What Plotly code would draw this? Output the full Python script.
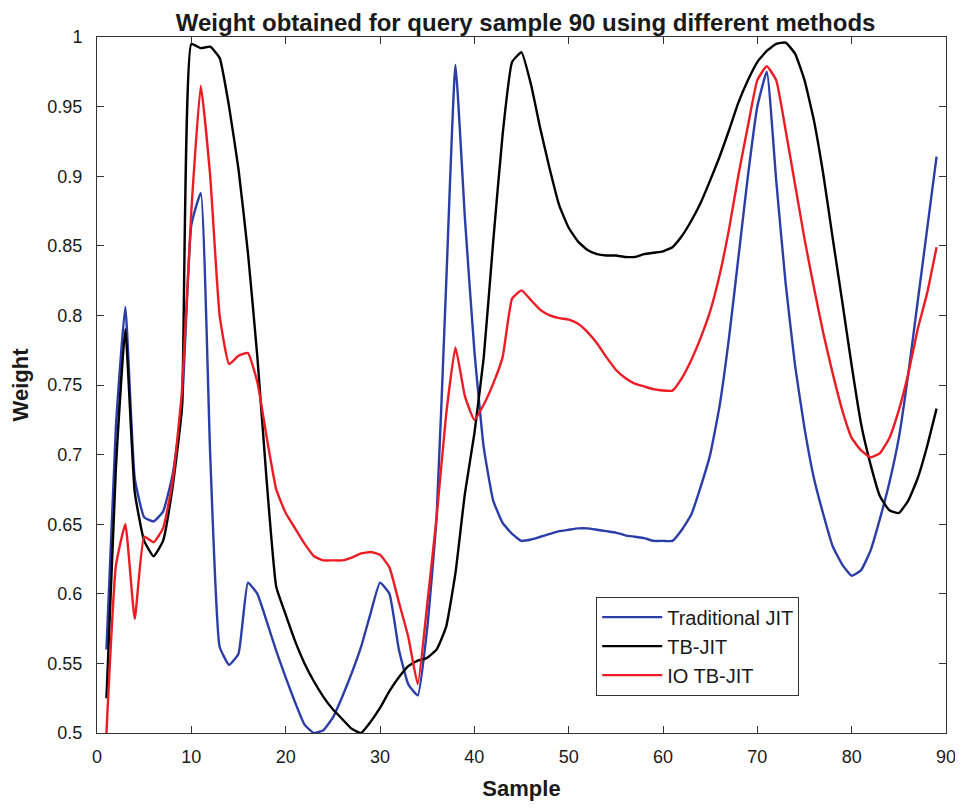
import plotly.graph_objects as go

samples = list(range(1, 90))

traditional_jit = [
    0.560, 0.720, 0.806, 0.683, 0.655, 0.652, 0.659, 0.685, 0.735, 0.865,
    0.888, 0.700, 0.562, 0.549, 0.557, 0.608, 0.600, 0.580, 0.559, 0.540,
    0.522, 0.506, 0.500, 0.502, 0.511, 0.526, 0.543, 0.562, 0.586, 0.608,
    0.600, 0.560, 0.535, 0.527, 0.575, 0.655, 0.820, 0.980, 0.870, 0.775,
    0.705, 0.667, 0.651, 0.643, 0.638, 0.639, 0.641, 0.643, 0.645, 0.646,
    0.647, 0.647, 0.646, 0.645, 0.644, 0.642, 0.641, 0.640, 0.638, 0.638,
    0.638, 0.646, 0.657, 0.677, 0.700, 0.735, 0.784, 0.842, 0.900, 0.950,
    0.975, 0.897, 0.823, 0.764, 0.719, 0.683, 0.657, 0.634, 0.621, 0.613,
    0.617, 0.631, 0.654, 0.680, 0.712, 0.758, 0.810, 0.862, 0.914,
]

tb_jit = [
    0.525, 0.690, 0.790, 0.673, 0.638, 0.627, 0.638, 0.676, 0.733, 0.995,
    0.992, 0.993, 0.985, 0.950, 0.905, 0.845, 0.770, 0.680, 0.605, 0.585,
    0.566, 0.550, 0.537, 0.526, 0.517, 0.510, 0.503, 0.500, 0.508, 0.518,
    0.530, 0.540, 0.548, 0.552, 0.554, 0.560, 0.576, 0.615, 0.672, 0.715,
    0.770, 0.853, 0.930, 0.982, 0.989, 0.966, 0.934, 0.905, 0.879, 0.863,
    0.853, 0.847, 0.844, 0.843, 0.843, 0.842, 0.842, 0.844, 0.845, 0.846,
    0.849, 0.857, 0.868, 0.881, 0.897, 0.914, 0.933, 0.953, 0.969, 0.982,
    0.990, 0.995, 0.996, 0.988, 0.969, 0.940, 0.901, 0.855, 0.810, 0.764,
    0.722, 0.693, 0.670, 0.660, 0.658, 0.667, 0.683, 0.706, 0.733,
]

io_tb_jit = [
    0.500, 0.620, 0.650, 0.582, 0.641, 0.637, 0.647, 0.680, 0.745, 0.875,
    0.965, 0.900, 0.800, 0.765, 0.771, 0.773, 0.752, 0.712, 0.675, 0.658,
    0.647, 0.636, 0.627, 0.624, 0.624, 0.624, 0.626, 0.629, 0.630, 0.628,
    0.619, 0.594, 0.569, 0.535, 0.592, 0.655, 0.728, 0.777, 0.742, 0.725,
    0.736, 0.751, 0.770, 0.812, 0.818, 0.811, 0.804, 0.800, 0.798, 0.797,
    0.794, 0.788, 0.780, 0.770, 0.761, 0.755, 0.751, 0.749, 0.747, 0.746,
    0.746, 0.755, 0.768, 0.784, 0.803, 0.829, 0.862, 0.901, 0.936, 0.969,
    0.979, 0.969, 0.933, 0.894, 0.855, 0.820, 0.787, 0.758, 0.732, 0.712,
    0.703, 0.698, 0.701, 0.712, 0.732, 0.758, 0.790, 0.816, 0.849,
]

x_ticks = [0, 10, 20, 30, 40, 50, 60, 70, 80, 90]
y_ticks = [0.5, 0.55, 0.6, 0.65, 0.7, 0.75, 0.8, 0.85, 0.9, 0.95, 1.0]
y_tick_labels = ["0.5", "0.55", "0.6", "0.65", "0.7", "0.75", "0.8", "0.85", "0.9", "0.95", "1"]

series = [
    ("Traditional JIT", traditional_jit, "#2b3ea8"),
    ("TB-JIT", tb_jit, "#000000"),
    ("IO TB-JIT", io_tb_jit, "#ec1c24"),
]

fig = go.Figure()
for name, vals, color in series:
    fig.add_trace(go.Scatter(x=samples, y=vals, mode="lines", name=name,
                             line=dict(color=color, width=2.4, shape="spline", smoothing=0.4)))

FONT = "Liberation Sans, Arial"
axis_common = dict(
    automargin=False,
    showgrid=False, zeroline=False, showline=True, linecolor="#333333", linewidth=1,
    mirror="ticks", ticks="inside", ticklen=7, tickcolor="#333333",
    tickfont=dict(family=FONT, size=18, color="#1a1a1a"),
)

# page body adds an 8px margin, so the figure is sized and offset to compensate
fig.update_layout(
    width=955, height=793,
    margin=dict(l=89, r=17, t=29, b=68),
    paper_bgcolor="white", plot_bgcolor="white",
    title=dict(text="<b>Weight obtained for query sample 90 using different methods</b>",
               x=0.542, xanchor="center", y=0.982, yanchor="middle",
               font=dict(family=FONT, size=24, color="#1a1a1a")),
    xaxis=dict(range=[0, 90], tickvals=x_ticks, ticklabelstandoff=7,
               title=dict(text="<b>Sample</b>", standoff=20,
                          font=dict(family=FONT, size=22, color="#1a1a1a")),
               **axis_common),
    yaxis=dict(range=[0.5, 1.0], tickvals=y_ticks, ticktext=y_tick_labels, ticklabelstandoff=10,
               title=dict(text="<b>Weight</b>", standoff=12,
                          font=dict(family=FONT, size=22, color="#1a1a1a")),
               **axis_common),
    legend=dict(x=0.588, y=0.196, xanchor="left", yanchor="top",
                bgcolor="white", bordercolor="#333333", borderwidth=1,
                font=dict(family=FONT, size=20, color="#1a1a1a"),
                tracegroupgap=0, itemwidth=60),
    showlegend=True,
)

fig.write_html("out.html")
